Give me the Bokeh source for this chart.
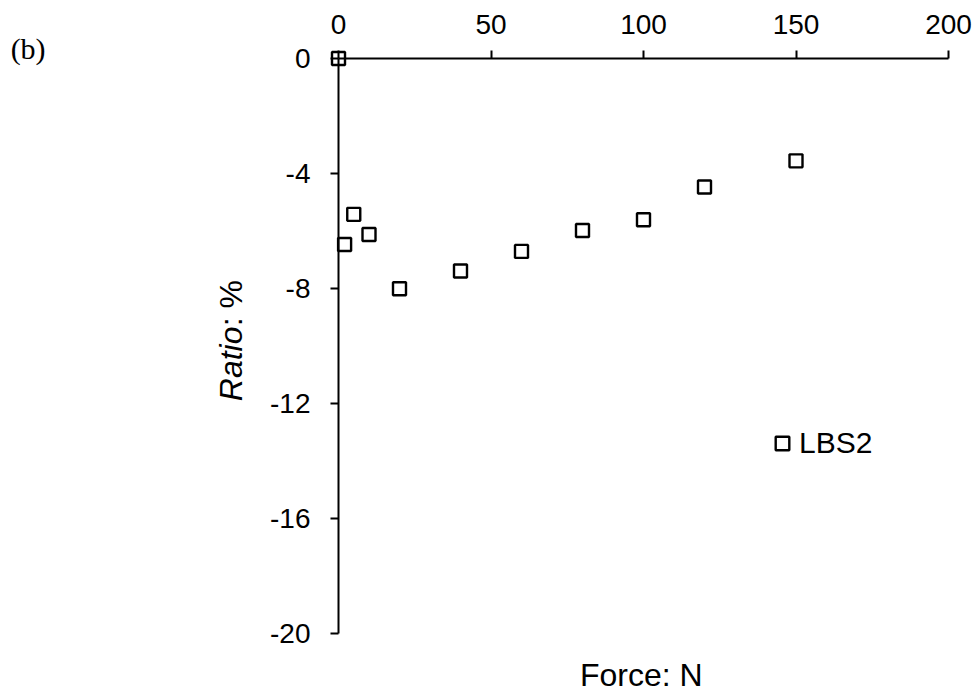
import math

from bokeh.plotting import figure
from bokeh.models import (Range1d, LinearAxis, FixedTicker, Legend,
                          LegendItem, ColumnDataSource, CustomJSTickFormatter)
from bokeh.core.properties import value
from bokeh.embed import file_html
from bokeh.resources import INLINE

# Measured ratio against applied force for sample LBS2
force = [0, 2, 5, 10, 20, 40, 60, 80, 100, 120, 150]
ratio = [0, -6.47, -5.42, -6.12, -8.01, -7.39, -6.71, -5.98, -5.61, -4.47, -3.56]
series_name = "LBS2"

x_ticks = [0, 50, 100, 150, 200]
y_ticks = [0, -4, -8, -12, -16, -20]

FONT = "Liberation Sans"

p = figure(width=978, height=695, output_backend="svg", toolbar_location=None,
           x_range=Range1d(0, 200), y_range=Range1d(-20, 0),
           x_axis_location=None, y_axis_location=None,
           min_border_left=338, min_border_right=30,
           min_border_top=58, min_border_bottom=62)
p.grid.visible = False
p.outline_line_color = None
p.background_fill_color = "white"
p.border_fill_color = "white"

# plain hyphen-minus in tick labels
plain = CustomJSTickFormatter(code="return String(tick);")


def style_axis(ax):
    ax.formatter = plain
    ax.axis_line_color = "black"
    ax.axis_line_width = 2
    ax.major_tick_line_color = "black"
    ax.major_tick_line_width = 2
    ax.major_tick_in = 0
    ax.major_tick_out = 8
    ax.minor_tick_line_color = None
    ax.major_label_text_font = FONT
    ax.major_label_text_font_size = "28px"
    ax.major_label_text_color = "black"


x_axis = LinearAxis(ticker=FixedTicker(ticks=x_ticks))
style_axis(x_axis)
x_axis.major_label_standoff = 17
p.add_layout(x_axis, "above")

y_axis = LinearAxis(ticker=FixedTicker(ticks=y_ticks))
style_axis(y_axis)
y_axis.major_label_standoff = 20
p.add_layout(y_axis, "left")

src = ColumnDataSource(data=dict(force=force, ratio=ratio))
pts = p.scatter("force", "ratio", source=src, marker="square", size=13,
                fill_color=None, line_color="black", line_width=2.4,
                level="overlay")

legend = Legend(items=[LegendItem(label=series_name, renderers=[pts])],
                location=(427, 173), orientation="vertical",
                padding=0, margin=0, spacing=0,
                border_line_color=None, background_fill_alpha=0,
                glyph_width=34, glyph_height=34, label_height=34,
                label_standoff=-2, label_text_font=FONT,
                label_text_font_size="30px", label_text_color="black")
p.add_layout(legend)

# Axis titles and panel tag, drawn as unclipped text outside the frame
title_kw = dict(text_font=value(FONT), text_font_size=value("32px"),
                text_color="black", level="overlay")
p.text(x=[99.3], y=[-21.46], text=["Force: N"], text_align="center",
       text_baseline="alphabetic", **title_kw)
p.text(x=[-35.4], y=[-11.92], text=["Ratio"], angle=math.pi / 2,
       text_align="left", text_baseline="alphabetic",
       text_font_style="italic", **title_kw)
p.text(x=[-35.4], y=[-9.31], text=[": %"], angle=math.pi / 2,
       text_align="left", text_baseline="alphabetic", **title_kw)
p.text(x=[-107.5], y=[0.34], text=["(b)"], text_font=value("Liberation Serif"),
       text_font_size=value("30px"), text_color="black", text_align="left",
       text_baseline="alphabetic", level="overlay")

open("out.html", "w").write(file_html(p, INLINE))
